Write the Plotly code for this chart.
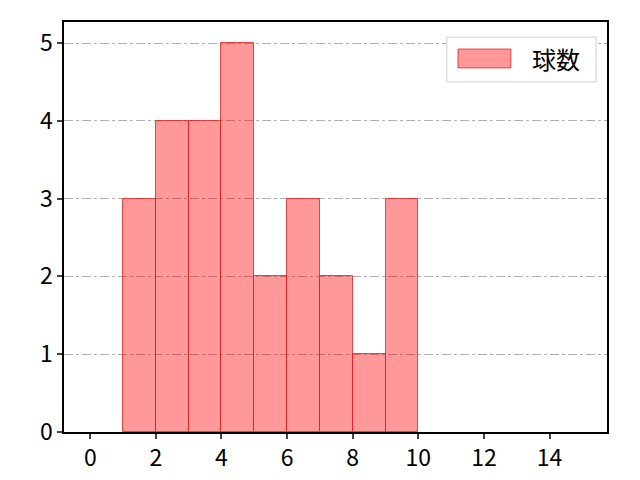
import plotly.graph_objects as pgo

# histogram data: bin left edges and counts
bin_lefts = [1, 2, 3, 4, 5, 6, 7, 8, 9]
counts = [3, 4, 4, 5, 2, 3, 2, 1, 3]
series_name = '球数'
x_ticks = [0, 2, 4, 6, 8, 10, 12, 14]
y_ticks = [0, 1, 2, 3, 4, 5]

fill = 'rgba(255, 0, 0, 0.4)'
edge = 'rgba(230, 30, 30, 0.8)'
font_family = 'Noto Sans CJK JP'

fig = pgo.Figure()
fig.add_trace(pgo.Bar(x=[b + 0.5 for b in bin_lefts], y=counts, width=1,
                      name=series_name, showlegend=False,
                      marker_color=fill,
                      marker_line_color=edge,
                      marker_line_width=1))

# matplotlib-like legend drawn by hand (wide patch)
fig.add_shape(type='rect', xref='paper', yref='paper',
              x0=0.705, x1=0.980, y0=0.854, y1=0.963,
              line=dict(color='#d0d0d0', width=1), fillcolor='white')
fig.add_shape(type='rect', xref='paper', yref='paper',
              x0=0.7256, x1=0.823, y0=0.888, y1=0.934,
              line=dict(color=edge, width=1), fillcolor=fill)
fig.add_annotation(xref='paper', yref='paper', x=0.906, y=0.911,
                   xanchor='center', yanchor='middle',
                   text=series_name, showarrow=False,
                   font=dict(family=font_family, size=24, color='black'))

fig.update_layout(
    width=640, height=480,
    margin=dict(l=56, r=41, t=14, b=56),
    plot_bgcolor='white', paper_bgcolor='white',
    font=dict(family=font_family, size=23, color='black'),
    bargap=0,
)
fig.update_xaxes(range=[-0.8, 15.75], tickvals=x_ticks, showgrid=False,
                 showline=True, linecolor='black', linewidth=1.5, mirror=True,
                 ticks='outside', ticklen=5, tickwidth=1.5, zeroline=False,
                 tickfont=dict(size=23))
fig.update_yaxes(range=[0, 5.27], tickvals=y_ticks, showgrid=True,
                 gridcolor='#b0b0b0', griddash='dashdot', gridwidth=1,
                 showline=True, linecolor='black', linewidth=1.5, mirror=True,
                 ticks='outside', ticklen=5, tickwidth=1.5, zeroline=False,
                 tickfont=dict(size=23))

fig.write_html("out.html")
